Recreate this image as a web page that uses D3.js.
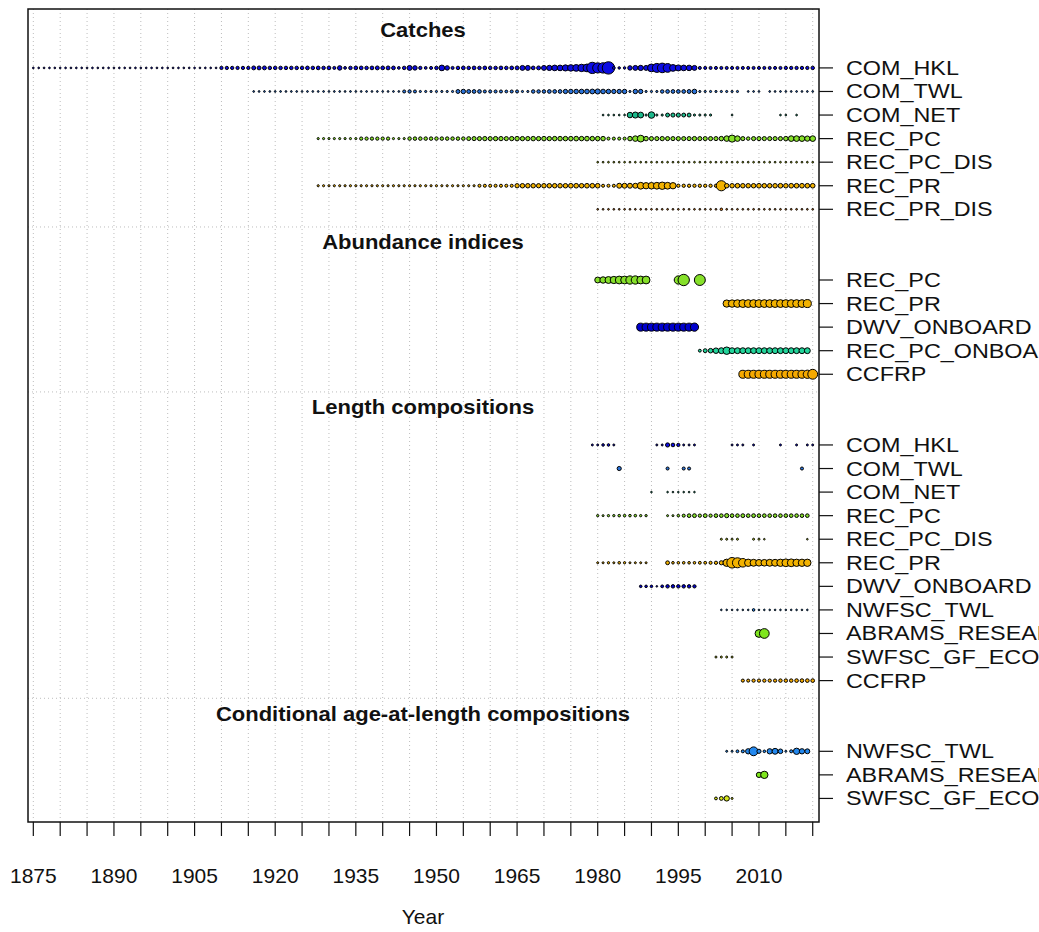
<!DOCTYPE html>
<html>
<head>
<meta charset="utf-8">
<script src="https://cdn.jsdelivr.net/npm/d3@7/dist/d3.min.js"></script>
<style>
  body { margin: 0; background: #fff; }
</style>
</head>
<body>
<script>
// SS data plot: bubbles by year for each data type and fleet

var width = 1039;
var height = 932;

// fleets shown in each section, top to bottom
var catchFleets = ["COM_HKL", "COM_TWL", "COM_NET", "REC_PC", "REC_PC_DIS", "REC_PR", "REC_PR_DIS"];
var indexFleets = ["REC_PC", "REC_PR", "DWV_ONBOARD", "REC_PC_ONBOARD", "CCFRP"];
var lengthFleets = ["COM_HKL", "COM_TWL", "COM_NET", "REC_PC", "REC_PC_DIS", "REC_PR", "DWV_ONBOARD",
                    "NWFSC_TWL", "ABRAMS_RESEARCH", "SWFSC_GF_ECOLOGY", "CCFRP"];
var ageFleets = ["NWFSC_TWL", "ABRAMS_RESEARCH", "SWFSC_GF_ECOLOGY"];
var sectionTitles = ["Catches", "Abundance indices", "Length compositions", "Conditional age-at-length compositions"];

var yearTicks = d3.range(1875, 2021, 5);
var yearLabels = d3.range(1875, 2011, 15);

// relative amounts (bubble area), one value per year from the start year; null = no data
var catchHklStart = 1875;
var catchHkl = [2,2,2,2,2,2,2,2,2,2, 2,2,2,2,2,2,2,2,2,2, 2,2,2,2,2,2,2,2,2,2, 2,2,2,2,2,
  7,7,7,7,7,7,10,10,10,8,8,8,8,8,
  8,8,9,8,9,8,9,6,13,5,8,9,9,8,9,10,9,10,9,5,8,16,13,7,5,6,8,21,13,6,
  8,9,8,9,8,9,8,8,9,8,9,10,16,16,9,10,16,18,21,21,
  25,28,30,36,40,83,67,70,100,
  5,4,4,13,16,18,16,
  40,53,60,50,30,24,21,20,16,6,
  6,6,6,6,6,6,6,6,6,6,6,6,6,6,6,7,7,7,7,7,8];
var catchTwlStart = 1916;
var catchTwl = [2,2,2,2,2,2,2,2,2,2, 2,2,2,2,2,2,2,2,2,2, 2,2,2,2,2,2,2,2,
  6,7,6, 3,3,3,3,3,3,3, 10,13,10,9,9, 6,6,6,6,5,6,6, 3,3, 8,8,8,9,9,9,
  12,13,13,14,14,15,17,14,13,12,12,13,
  3,13,12,3,3,3,8,9,9,9,9,10,14,3,
  3,3,3,3,3,3,3, null, 2,2,2, null, 2,2,2,2,2,2,2,2,2];
var catchNetStart = 1981;
var catchNet = [2,2,2,2,2,20,24,22,3,28,3,3,10,11,11,10,10,3,3,3,3,null,null,null,2,
  null,null,null,null,null,null,null,null,2,2,null,2,null,null,null];
var catchPcStart = 1928;
var catchPc = [3,3,3,3,3,3,3,3, 7,7,7,7,7,7, 3,3,3, 8,8,8,8,8,8,8,8,8,8,8,
  10,11,11,12,11,12,12,11,12,13,12,12,13,12,13,12,13,13,
  13,13,14,13,14,13,13,13, 6,6,6,6, 13,20,30,13,
  11,11,12,11,11,11,11,11,12,11,11,11,11,
  13,20,33,20,11,8,11, 11,11,11,11,11,13, 21,21,21,18,21];
var catchPcDisStart = 1980;
var catchPcDis = [2,2,2,2,2,2,2,2,2,2, 2,2,2,2,2,2,2,2,2,2, 2,2,2,2,2,2,2,2,2,2, 2,2,2,2,2,2,2,2,2,2, 2];
var catchPrStart = 1928;
var catchPr = [3,3,3,3,3,3,3,3,3,3, 3,3,3,3,3,3,3,3,3,3, 3,3,3,3,3,3,3,3,3,3,
  6,6,6,6,6,6,6, 12,13,13,13,12,13,13,13,13,
  13,14,14,13,14,14,14, 6,6,6, 16,16,16,16, 30, 26,28,30,36,30,26,
  7,7,7,7,7,7,7,7, 67,
  13,13,14,13,13,13,14,13,13,13,14,13,14,14,14,14,14];
var catchPrDisStart = 1980;
var catchPrDis = [2,2,2,2,2,2,2,2,2,2, 2,2,2,2,2,2,2,2,2,2, 2,2,2,4,2,2,2,2,2,2, 2,2,2,2,2,2,2,2,2,2, 2];

var idxPcStart = 1980;
var idxPc = [25,30,34,38,44,44,49,49,44,44, null,null,null,null,null, 49,93,null,null,86];
var idxPrStart = 2004;
var idxPr = [38,40,42,44,44,44,44,44,44,44,44,44,44,44,44,46];
var idxDwvStart = 1988;
var idxDwv = [46,46,46,46,46,46,46,46,46,46,49];
var idxPcOnbStart = 1999;
var idxPcOnb = [6,11,15,22,25,40,25,25,25,25,25,25,25,25,25,25,25,25,25,25,25];
var idxCcfrpStart = 2007;
var idxCcfrp = [46,46,46,46,46,46,46,46,46,46,46,46,49,70];

var lenHklStart = 1979;
var lenHkl = [3,3,5,5,3, null,null,null,null,null,null,null, 3,3,13,10,8,3,3,3,
  null,null,null,null,null,null, 3,3,3,null,3, null,null,null,null, 3,null,null,3,null,3,3];
var lenTwlStart = 1984;
var lenTwl = [13, null,null,null,null,null,null,null,null, 7,null,null,7,7,
  null,null,null,null,null,null,null,null,null,null,null,null,null,null,null,null,null,null,null,null, 7];
var lenNetStart = 1990;
var lenNet = [2,null,null,2,2,2,2,2,2];
var lenPcStart = 1980;
var lenPc = [4,3,4,4,5,5,5,5,4,4, null,null,null,
  3,3,5,7,10,11,8,11,8,10,10,13,10,10,11,10,11,10,10,10,10,10,10,10,10,10,10];
var lenPcDisStart = 2003;
var lenPcDis = [3,3,3,3,null,null,3,3,2,null,null,null,null,null,null,null,2];
var lenPrStart = 1980;
var lenPr = [3,3,4,3,5,4,3,3,3,3, null,null,null, 11, 5,5,5,5,5,6,6,7,8, 13,
  40,83,75,55,40,36,33,33,36,36,40,45,45,40,40,40];
var lenDwvStart = 1988;
var lenDwv = [5,5,5,2,6,9,9,9,9,9,8];
var lenNwfscStart = 2003;
var lenNwfsc = [2,2,2,2,2,2,5,2,2,2,2,2,2,2,2,2,2];
var lenAbramsStart = 2010;
var lenAbrams = [45,70];
var lenSwfscStart = 2002;
var lenSwfsc = [3,3,3,3];
var lenCcfrpStart = 2007;
var lenCcfrp = [7,7,8,8,8,8,8,9,9,9,10,10,10,10];

var ageNwfscStart = 2004;
var ageNwfsc = [3,3,6,7,21,58,13,5,21,26,16,3,7,30,21,18];
var ageAbramsStart = 2010;
var ageAbrams = [21,40];
var ageSwfscStart = 2002;
var ageSwfsc = [6,11,21,3];

// fill colour by fleet
var fleetColors = {
  COM_HKL: "#0c0ce2", COM_TWL: "#2a72d8", COM_NET: "#1db98c", REC_PC: "#86e02a",
  REC_PC_DIS: "#c9e21e", REC_PR: "#f2b200", REC_PR_DIS: "#e8801a", DWV_ONBOARD: "#0000cd",
  REC_PC_ONBOARD: "#22d49a", NWFSC_TWL: "#2388ee", ABRAMS_RESEARCH: "#7fe61e",
  SWFSC_GF_ECOLOGY: "#d4e41c", CCFRP: "#f5a900"
};

// section -> list of [start, values] in fleet order; rMax = radius of a value of 100
var sections = [
  { title: sectionTitles[0], fleets: catchFleets, rMax: 6.2,
    data: [[catchHklStart, catchHkl], [catchTwlStart, catchTwl], [catchNetStart, catchNet],
           [catchPcStart, catchPc], [catchPcDisStart, catchPcDis], [catchPrStart, catchPr],
           [catchPrDisStart, catchPrDis]] },
  { title: sectionTitles[1], fleets: indexFleets, rMax: 5.9,
    data: [[idxPcStart, idxPc], [idxPrStart, idxPr], [idxDwvStart, idxDwv],
           [idxPcOnbStart, idxPcOnb], [idxCcfrpStart, idxCcfrp]] },
  { title: sectionTitles[2], fleets: lengthFleets, rMax: 5.8,
    data: [[lenHklStart, lenHkl], [lenTwlStart, lenTwl], [lenNetStart, lenNet], [lenPcStart, lenPc],
           [lenPcDisStart, lenPcDis], [lenPrStart, lenPr], [lenDwvStart, lenDwv],
           [lenNwfscStart, lenNwfsc], [lenAbramsStart, lenAbrams], [lenSwfscStart, lenSwfsc],
           [lenCcfrpStart, lenCcfrp]] },
  { title: sectionTitles[3], fleets: ageFleets, rMax: 5.8,
    data: [[ageNwfscStart, ageNwfsc], [ageAbramsStart, ageAbrams], [ageSwfscStart, ageSwfsc]] }
];

// row positions, counted from the bottom (bottom section first)
var row = 1;
for (var s = sections.length - 1; s >= 0; s--) {
  var sec = sections[s];
  sec.bottom = row;
  sec.top = row + sec.fleets.length - 1;
  row = sec.top + 3;
}

var box = { left: 28, right: 819, top: 9, bottom: 822 };

var xScale = d3.scaleLinear()
               .domain([1874.01, 2021.17])
               .range([box.left, box.right]);

var yScale = d3.scaleLinear()
               .domain([0, 34.5])
               .range([box.bottom, box.top]);

var svg = d3.select("body")
            .append("svg")
            .attr("width", width)
            .attr("height", height)
            .style("display", "block");

var font = "Liberation Sans, Arial, Helvetica, sans-serif";

// text in the picture is a bit wider than tall, hence the x stretch
function addText(x, y, str, size, anchor, stretch, weight) {
  return svg.append("text")
            .attr("transform", "translate(" + x + "," + y + ") scale(" + stretch + ",1)")
            .attr("font-family", font)
            .attr("font-size", size + "px")
            .attr("font-weight", weight || "normal")
            .attr("text-anchor", anchor)
            .attr("fill", "#111")
            .text(str);
}

// vertical dotted grid every 5 years
svg.append("g")
   .selectAll("line")
   .data(yearTicks)
   .enter()
   .append("line")
   .attr("x1", function(d){ return xScale(d); })
   .attr("x2", function(d){ return xScale(d); })
   .attr("y1", box.top)
   .attr("y2", box.bottom)
   .attr("stroke", "#bdbdbd")
   .attr("stroke-width", 1)
   .attr("stroke-dasharray", "1,3");

// separators between sections
svg.append("g")
   .selectAll("line")
   .data(sections.slice(0, sections.length - 1))
   .enter()
   .append("line")
   .attr("x1", box.left)
   .attr("x2", box.right)
   .attr("y1", function(d){ return yScale(d.bottom - 0.75); })
   .attr("y2", function(d){ return yScale(d.bottom - 0.75); })
   .attr("stroke", "#bdbdbd")
   .attr("stroke-width", 1)
   .attr("stroke-dasharray", "1,3");

// bubbles
sections.forEach(function(sec) {
  var rScale = d3.scaleSqrt()
                 .domain([0, 100])
                 .range([0, sec.rMax]);

  sec.fleets.forEach(function(fleet, i) {
    var start = sec.data[i][0];
    var vals = sec.data[i][1];
    var pts = [];
    vals.forEach(function(v, k) {
      if (v !== null) pts.push({ year: start + k, value: v });
    });
    var rowY = yScale(sec.top - i);
    svg.append("g")
       .selectAll("circle")
       .data(pts)
       .enter()
       .append("circle")
       .attr("cx", function(d){ return xScale(d.year); })
       .attr("cy", rowY)
       .attr("r", function(d){ return rScale(d.value); })
       .attr("fill", fleetColors[fleet])
       .attr("stroke", "#000")
       .attr("stroke-width", 1);
  });

  addText(423, yScale(sec.top + 1.6) + 7, sec.title, 20, "middle", 1.1, "bold");

  // right-hand axis: ticks and fleet names (long names run off the figure)
  sec.fleets.forEach(function(fleet, i) {
    var y = yScale(sec.top - i);
    svg.append("line")
       .attr("x1", box.right)
       .attr("x2", box.right + 14)
       .attr("y1", y)
       .attr("y2", y)
       .attr("stroke", "#111")
       .attr("stroke-width", 1.2);
    addText(box.right + 27, y + 7, fleet, 20.5, "start", 1.14);
  });
});

// plot frame
svg.append("rect")
   .attr("x", box.left)
   .attr("y", box.top)
   .attr("width", box.right - box.left)
   .attr("height", box.bottom - box.top)
   .attr("fill", "none")
   .attr("stroke", "#111")
   .attr("stroke-width", 1.5);

// x axis
svg.append("g")
   .selectAll("line")
   .data(yearTicks)
   .enter()
   .append("line")
   .attr("x1", function(d){ return xScale(d); })
   .attr("x2", function(d){ return xScale(d); })
   .attr("y1", box.bottom)
   .attr("y2", box.bottom + 14)
   .attr("stroke", "#111")
   .attr("stroke-width", 1.2);

yearLabels.forEach(function(yr) {
  addText(xScale(yr), 883, yr, 20, "middle", 1.05);
});

addText(423, 924, "Year", 20, "middle", 1.05);
</script>
</body>
</html>
